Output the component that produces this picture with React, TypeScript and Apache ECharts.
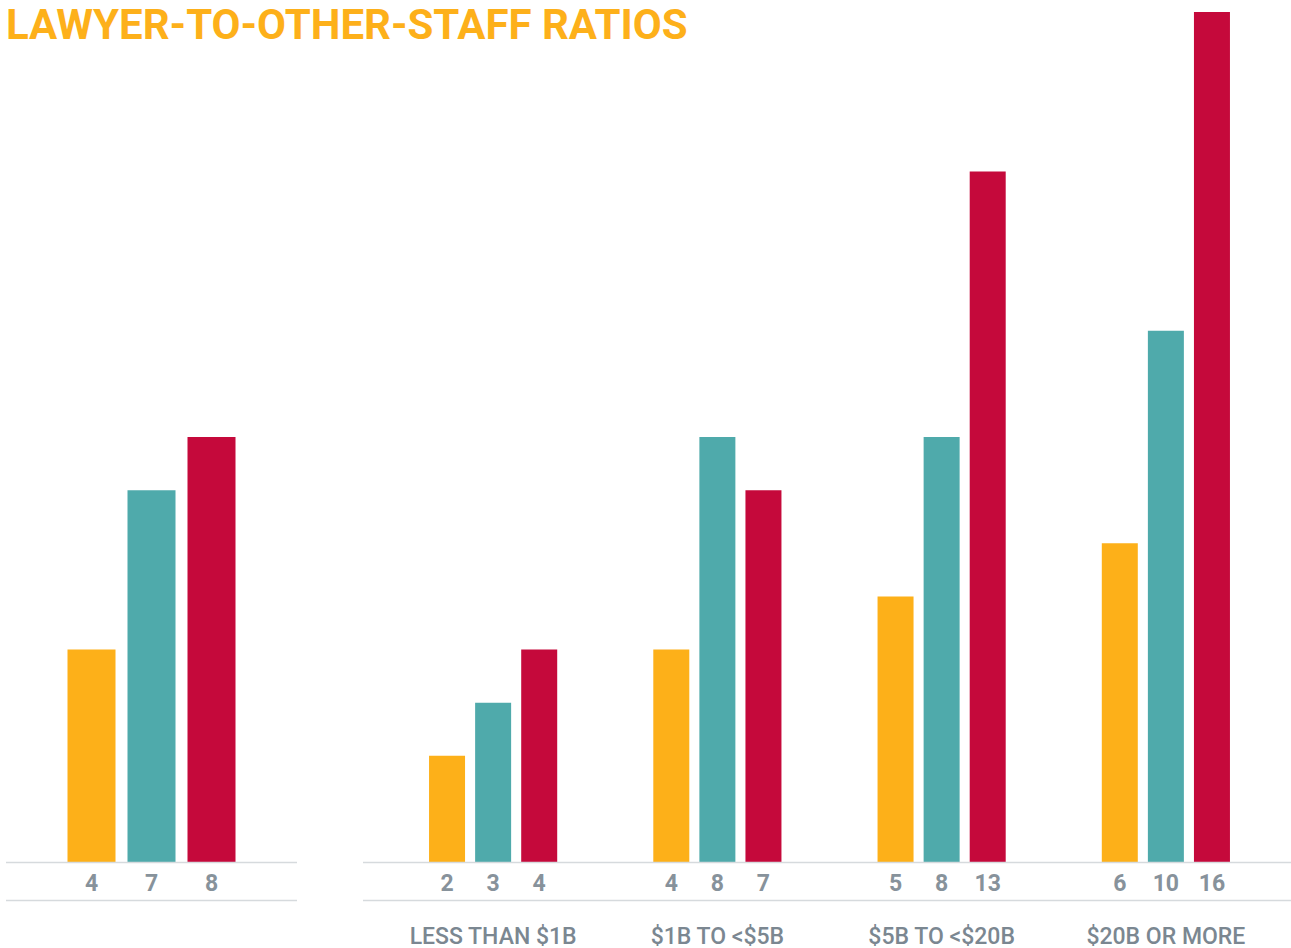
import React, { useEffect, useRef } from "react";
import * as echarts from "echarts";

const TITLE = "LAWYER-TO-OTHER-STAFF RATIOS";
const overallValues = [4, 7, 8];
const categories = ["LESS THAN $1B", "$1B TO <$5B", "$5B TO <$20B", "$20B OR MORE"];
const orangeValues = [2, 4, 5, 6];
const tealValues = [3, 8, 8, 10];
const redValues = [4, 7, 13, 16];
const seriesNames = ["Ratio A", "Ratio B", "Ratio C"];
const COLORS = ["#FDB019", "#4FAAAB", "#C5093B"];

const FONT = "Roboto, 'Noto Sans', sans-serif";
const LABEL_GRAY = "#87929b";
const CAT_GRAY = "#7b8791";
const LINE_GRAY = "#d6dadd";

export default function App() {
  const ref = useRef<HTMLDivElement>(null);
  useEffect(() => {
    if (!ref.current) return;
    const chart = echarts.init(ref.current, undefined, { renderer: "svg" });
    const valueLabel = (color: string) => ({
      show: true,
      position: ["50%", "100%"],
      align: "center",
      verticalAlign: "middle",
      offset: [0, 21],
      fontFamily: FONT,
      fontWeight: "bold",
      fontSize: 23,
      color,
    });
    const rightSets = [orangeValues, tealValues, redValues];
    const series: any[] = [];
    overallValues.forEach((v, i) => {
      series.push({
        type: "bar",
        name: seriesNames[i],
        xAxisIndex: 0,
        yAxisIndex: 0,
        data: [v],
        barWidth: 48,
        barGap: "25%",
        itemStyle: { color: COLORS[i] },
        label: valueLabel(LABEL_GRAY),
      });
    });
    rightSets.forEach((arr, i) => {
      series.push({
        type: "bar",
        name: seriesNames[i],
        xAxisIndex: 1,
        yAxisIndex: 1,
        data: arr,
        barWidth: 36,
        barGap: "28%",
        itemStyle: { color: COLORS[i] },
        label: valueLabel(LABEL_GRAY),
      });
    });
    const lineStyle = { stroke: LINE_GRAY, lineWidth: 1.5 };
    chart.setOption({
      animation: false,
      title: {
        text: TITLE,
        left: 6,
        top: 3,
        padding: 0,
        textStyle: { fontFamily: FONT, fontWeight: "bold", fontSize: 42, color: "#FDB01A", lineHeight: 42 },
      },
      grid: [
        { left: 6, right: 1291 - 297, top: 12, bottom: 86 },
        { left: 381, right: 1291 - 1278, top: 12, bottom: 86 },
      ],
      xAxis: [
        {
          type: "category",
          gridIndex: 0,
          data: [""],
          axisLine: { show: false },
          axisTick: { show: false },
          axisLabel: { show: false },
        },
        {
          type: "category",
          gridIndex: 1,
          data: categories,
          axisLine: { show: false },
          axisTick: { show: false },
          axisLabel: {
            margin: 64,
            fontFamily: FONT,
            fontSize: 23,
            lineHeight: 20,
            fontWeight: 500,
            color: CAT_GRAY,
          },
        },
      ],
      yAxis: [
        { type: "value", gridIndex: 0, min: 0, max: 16, show: false, splitLine: { show: false } },
        { type: "value", gridIndex: 1, min: 0, max: 16, show: false, splitLine: { show: false } },
      ],
      graphic: [
        { type: "line", shape: { x1: 6, y1: 862.5, x2: 297, y2: 862.5 }, style: lineStyle, z: 10 },
        { type: "line", shape: { x1: 363, y1: 862.5, x2: 1291, y2: 862.5 }, style: lineStyle, z: 10 },
        { type: "line", shape: { x1: 6, y1: 900.5, x2: 297, y2: 900.5 }, style: lineStyle, z: 10 },
        { type: "line", shape: { x1: 363, y1: 900.5, x2: 1291, y2: 900.5 }, style: lineStyle, z: 10 },
      ],
      series,
    });
    return () => chart.dispose();
  }, []);
  return (
    <div
      ref={ref}
      style={{ position: "fixed", left: 0, top: 0, width: 1291, height: 948, background: "#fff" }}
    />
  );
}
